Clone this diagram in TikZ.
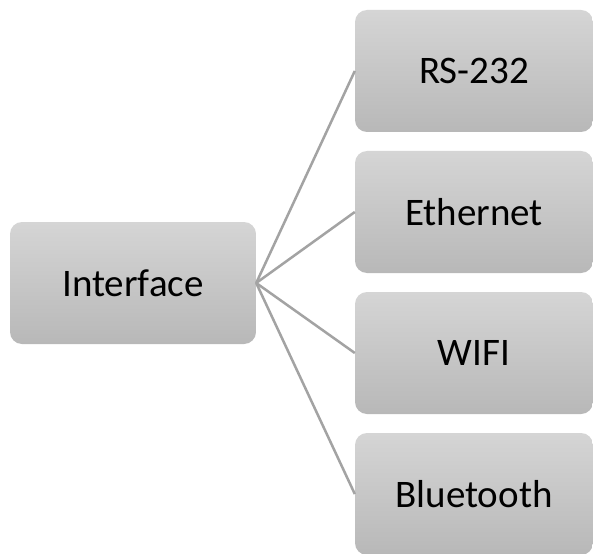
\documentclass[tikz,border=0pt]{standalone}
\usepackage{fontspec}
\setmainfont{Carlito}
\usepackage{xcolor}
\usepackage{tikz}
\usetikzlibrary{positioning}
\definecolor{boxtop}{HTML}{D5D5D5}
\definecolor{boxbot}{HTML}{B8B8B8}
\definecolor{linkx}{HTML}{A3A3A3}
\tikzset{
  hub/.style={rounded corners=12pt,top color=boxtop,bottom color=boxbot,draw=none,
    minimum width=246pt,minimum height=122pt,inner sep=0pt,font=\fontsize{39}{44}\selectfont},
  leaf/.style={rounded corners=12pt,top color=boxtop,bottom color=boxbot,draw=none,
    minimum width=238pt,minimum height=122pt,inner sep=0pt,font=\fontsize{39}{44}\selectfont},
  ln/.style={line width=2.5pt,linkx}
}
\begin{document}
\begin{tikzpicture}[x=1pt,y=-1pt]
\useasboundingbox[fill=white] (0,0) rectangle (593,553);
\node[hub] (iface) at (133,283) {Interface};
\foreach \yy/\l/\t in {71/1/RS-232,212/2/Ethernet,353/3/WIFI,494/4/Bluetooth}{\node[leaf] (p\l) at (474,\yy) {\t};}
\foreach \i in {1,2,3,4}{\draw[ln] (iface.east)--(p\i.west);}
\end{tikzpicture}
\end{document}
